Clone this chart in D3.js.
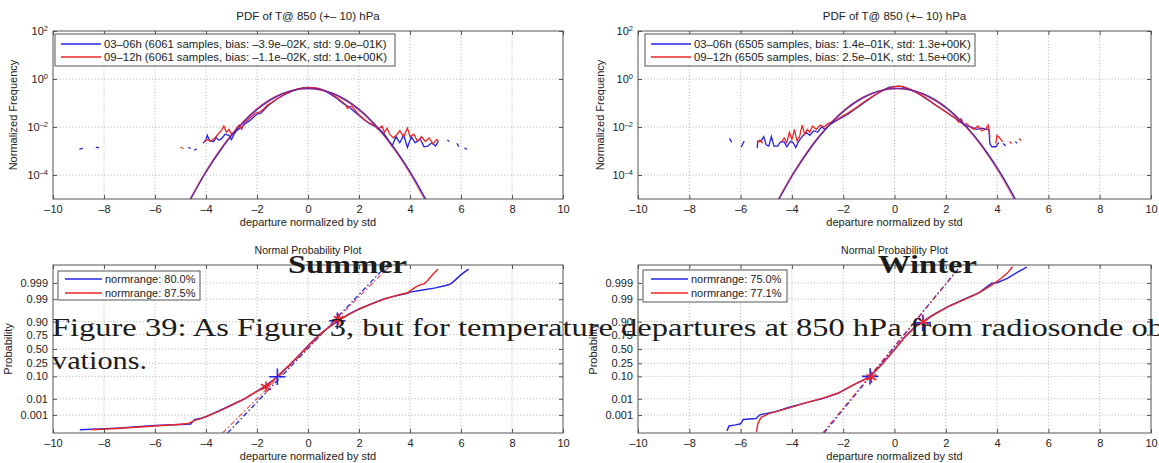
<!DOCTYPE html>
<html>
<head>
<meta charset="utf-8">
<script src="https://cdn.jsdelivr.net/npm/d3@7"></script>
<style>
  body { margin: 0; background: #fff; }
  svg { display: block; font-family: "Liberation Sans", Arial, sans-serif; }
</style>
</head>
<body>
<svg id="fig" width="1159" height="463"></svg>
<script>
// ---------- values ----------
const xTicks = [-10, -8, -6, -4, -2, 0, 2, 4, 6, 8, 10];
const pdfExps = [-4, -2, 0, 2];                       // y ticks 10^e
const probLabels = ["0.001", "0.01", "0.10", "0.25", "0.50", "0.75", "0.90", "0.99", "0.999"];
const probQuant = [-3.09, -2.33, -1.28, -0.67, 0, 0.67, 1.28, 2.33, 3.09];

const pdfTitle = "PDF of T@ 850 (+\u2013 10) hPa";
const nppTitle = "Normal Probability Plot";
const xLabel = "departure normalized by std";

const sumLegend = ["03\u201306h (6061 samples, bias: \u20133.9e\u201302K, std: 9.0e\u201301K)",
                   "09\u201312h (6061 samples, bias: \u20131.1e\u201302K, std: 1.0e+00K)"];
const winLegend = ["03\u201306h (6505 samples, bias: 1.4e\u201301K, std: 1.3e+00K)",
                   "09\u201312h (6505 samples, bias: 2.5e\u201301K, std: 1.5e+00K)"];
const sumNppLegend = ["normrange: 80.0%", "normrange: 87.5%"];
const winNppLegend = ["normrange: 75.0%", "normrange: 77.1%"];

// summer pdf, [departure, normalized frequency]; null = gap (empty bins)
const sumPdfBlue = [[-8.95,1.2e-3],[-8.85,1.3e-3],null,[-8.3,1.4e-3],[-8.22,1.4e-3],null,
  [-4.68,1.4e-3],[-4.62,1.3e-3],null,[-4.45,1.1e-3],[-4.38,1.2e-3],null,
  [-4.1,2.2e-3],[-4.0,3.0e-3],[-3.95,4.5e-3],[-3.85,2.6e-3],[-3.7,2.5e-3],[-3.6,3.6e-3],[-3.5,2.8e-3],
  [-3.4,3.2e-3],[-3.25,5e-3],[-3.1,4.5e-3],[-3.0,3e-3],[-2.9,5e-3],[-2.8,7e-3],[-2.6,1.0e-2],
  [-2.45,1.4e-2],[-2.3,1.8e-2],[-2.15,2.5e-2],[-2.0,3.4e-2],[-1.85,3.8e-2],[-1.7,5.5e-2],[-1.55,8e-2],
  [-1.4,1.05e-1],[-1.2,1.5e-1],[-1.0,2.0e-1],[-0.8,2.6e-1],[-0.6,3.2e-1],[-0.4,3.8e-1],[-0.2,4.3e-1],
  [0,4.5e-1],[0.2,4.4e-1],[0.4,4.0e-1],[0.6,3.4e-1],[0.8,2.6e-1],[1.0,1.9e-1],[1.15,1.5e-1],
  [1.3,1.1e-1],[1.45,8.5e-2],[1.6,7e-2],[1.8,4.5e-2],[2.0,3.0e-2],[2.2,2.0e-2],[2.4,1.4e-2],
  [2.6,1.1e-2],[2.8,8e-3],[3.0,5e-3],[3.15,2.8e-3],[3.3,1.6e-3],[3.45,4e-3],[3.6,2.2e-3],[3.75,4.5e-3],
  [3.9,1.4e-3],[4.05,4e-3],[4.2,2.2e-3],[4.4,3.2e-3],[4.55,1.5e-3],[4.7,1.6e-3],[4.85,2.2e-3],
  [5.0,1.6e-3],[5.1,2.4e-3],null,[5.48,2.8e-3],[5.52,2.6e-3],null,[5.85,2.0e-3],[5.9,1.6e-3],null,
  [6.15,1.3e-3],[6.22,1.2e-3]];
const sumPdfRed = [[-4.98,1.4e-3],[-4.9,1.3e-3],null,
  [-4.05,2.4e-3],[-3.95,3.0e-3],[-3.8,2.6e-3],[-3.65,3.5e-3],[-3.5,5.5e-3],[-3.4,7e-3],[-3.3,1.1e-2],
  [-3.2,6e-3],[-3.1,8e-3],[-3.0,5e-3],[-2.9,6e-3],[-2.8,9e-3],[-2.7,1.2e-2],[-2.6,8e-3],[-2.5,1.5e-2],
  [-2.35,2.0e-2],[-2.2,2.8e-2],[-2.05,3.8e-2],[-1.9,4.2e-2],[-1.75,5.5e-2],[-1.6,8e-2],[-1.4,1.1e-1],
  [-1.2,1.55e-1],[-1.0,2.0e-1],[-0.8,2.6e-1],[-0.6,3.3e-1],[-0.4,3.9e-1],[-0.2,4.2e-1],[0,4.4e-1],
  [0.2,4.4e-1],[0.4,4.1e-1],[0.6,3.5e-1],[0.8,2.8e-1],[1.0,2.1e-1],[1.15,1.6e-1],[1.3,1.2e-1],
  [1.45,9e-2],[1.55,6e-2],[1.7,7.5e-2],[1.85,5e-2],[2.0,3.2e-2],[2.15,2.4e-2],[2.3,1.7e-2],
  [2.45,1.4e-2],[2.6,1.2e-2],[2.75,8e-3],[2.9,1.1e-2],[3.0,6e-3],[3.1,9e-3],[3.2,5e-3],[3.35,3.5e-3],
  [3.5,5e-3],[3.6,7e-3],[3.75,4e-3],[3.9,9e-3],[4.0,4e-3],[4.15,5e-3],[4.3,2.5e-3],[4.45,4e-3],
  [4.6,2.5e-3],[4.75,3.5e-3],[4.9,2e-3],[5.05,3e-3],[5.1,2.6e-3]];

// fitted normal curves (same shape, read at these departures)
const sumFitX = [-4.7,-4.5,-4,-3.5,-3,-2.5,-2,-1.5,-1,-0.5,0,0.5,1,1.5,2,2.5,3,3.5,4,4.5,4.7];
const sumFitBlue = [6.5e-6,1.6e-5,1.34e-4,8.7e-4,4.4e-3,1.75e-2,5.4e-2,1.3e-1,2.42e-1,3.52e-1,3.99e-1,
                    3.52e-1,2.42e-1,1.3e-1,5.4e-2,1.75e-2,4.4e-3,8.7e-4,1.34e-4,1.6e-5,6.3e-6];
const sumFitRed  = [6.0e-6,1.5e-5,1.3e-4,8.6e-4,4.4e-3,1.75e-2,5.4e-2,1.3e-1,2.42e-1,3.52e-1,3.99e-1,
                    3.52e-1,2.42e-1,1.3e-1,5.4e-2,1.75e-2,4.4e-3,8.5e-4,1.3e-4,1.5e-5,6.0e-6];

// winter pdf
const winPdfBlue = [[-6.42,3.2e-3],[-6.36,2.4e-3],null,[-5.97,1.5e-3],[-5.87,2.5e-3],null,
  [-5.35,1.4e-3],[-5.33,2.6e-3],[-5.2,2.6e-3],[-5.1,4e-3],[-5.0,1.8e-3],[-4.9,1.6e-3],[-4.8,4e-3],
  [-4.7,1.6e-3],[-4.55,1.6e-3],[-4.45,2.4e-3],[-4.3,2.4e-3],[-4.2,1.5e-3],[-4.05,2.5e-3],[-3.95,2.2e-3],
  [-3.85,1.4e-3],[-3.75,2.4e-3],[-3.6,4e-3],[-3.45,6e-3],[-3.3,4.5e-3],[-3.15,7e-3],[-3.0,6e-3],
  [-2.85,1.0e-2],[-2.7,8e-3],[-2.55,1.2e-2],[-2.4,1.5e-2],[-2.2,2.0e-2],[-2.0,2.6e-2],[-1.8,3.5e-2],
  [-1.6,5e-2],[-1.4,7e-2],[-1.2,1.0e-1],[-1.0,1.4e-1],[-0.8,2.0e-1],[-0.6,2.7e-1],[-0.4,3.6e-1],
  [-0.2,4.6e-1],[0,4.8e-1],[0.2,5.0e-1],[0.4,4.4e-1],[0.6,3.6e-1],[0.8,2.9e-1],[1.0,2.2e-1],
  [1.2,1.6e-1],[1.4,1.15e-1],[1.6,8e-2],[1.8,6e-2],[2.0,4.3e-2],[2.2,3e-2],[2.4,2.2e-2],[2.6,1.5e-2],
  [2.8,1.1e-2],[3.0,1.0e-2],[3.2,8e-3],[3.4,9e-3],[3.6,8e-3],[3.68,8e-3],[3.72,2e-3],[3.8,1.5e-3],
  [3.95,1.5e-3],[4.05,2.2e-3],null,[4.25,2.0e-3],[4.32,1.7e-3],null,[4.72,2.4e-3],[4.76,2.2e-3]];
const winPdfRed = [[-5.35,2.2e-3],[-5.25,2.8e-3],[-5.15,2.2e-3],null,
  [-4.4,2.4e-3],[-4.3,3.5e-3],[-4.2,2.2e-3],[-4.1,6e-3],[-4.0,3e-3],[-3.9,8e-3],[-3.8,2.6e-3],
  [-3.7,4e-3],[-3.6,1.2e-2],[-3.5,5e-3],[-3.4,8e-3],[-3.3,6e-3],[-3.2,1.1e-2],[-3.05,8e-3],
  [-2.9,1.2e-2],[-2.75,1.0e-2],[-2.6,1.4e-2],[-2.45,1.6e-2],[-2.25,2.0e-2],[-2.05,2.8e-2],
  [-1.85,3.6e-2],[-1.65,5e-2],[-1.45,7e-2],[-1.25,1.0e-1],[-1.05,1.4e-1],[-0.85,1.9e-1],
  [-0.65,2.6e-1],[-0.45,3.4e-1],[-0.25,4.1e-1],[-0.05,4.7e-1],[0.15,5.0e-1],[0.35,4.8e-1],
  [0.55,4.0e-1],[0.75,3.2e-1],[0.95,2.4e-1],[1.15,1.8e-1],[1.35,1.3e-1],[1.55,9e-2],[1.75,6.5e-2],
  [1.95,4.6e-2],[2.15,3.3e-2],[2.35,2.5e-2],[2.5,1.6e-2],[2.6,2.2e-2],[2.7,1.2e-2],[2.8,1.4e-2],
  [2.95,1.0e-2],[3.1,8e-3],[3.25,1.1e-2],[3.4,7e-3],[3.55,8e-3],[3.65,1.2e-2],[3.72,4e-3],null,
  [3.95,2.2e-3],[4.0,4.5e-3],[4.1,3.5e-3],[4.2,2.5e-3],null,[4.5,2.4e-3],[4.55,2.1e-3],null,
  [4.88,3.2e-3],[4.92,2.8e-3]];
const winFitX = [-4.6,-4.4,-3.9,-3.4,-2.9,-2.4,-1.9,-1.4,-0.9,-0.4,0.1,0.6,1.1,1.6,2.1,2.6,3.1,3.6,4.1,4.6,4.8];
const winFitBlue = sumFitBlue;
const winFitRed = sumFitRed;

// normal probability plots, [departure, normal quantile of probability]
const sumNppBlue = [[-8.95,-3.78],[-7.5,-3.7],[-6,-3.58],[-5.0,-3.53],[-4.6,-3.51],[-4.45,-3.3],
  [-4.2,-3.24],[-4.0,-3.17],[-3.7,-3.0],[-3.5,-2.9],[-3.25,-2.76],[-3.0,-2.62],[-2.75,-2.48],
  [-2.5,-2.34],[-2.25,-2.16],[-2.0,-1.97],[-1.75,-1.78],[-1.5,-1.57],[-1.25,-1.35],[-1.0,-1.05],
  [-0.75,-0.77],[-0.5,-0.48],[-0.25,-0.17],[0,0.15],[0.25,0.44],[0.5,0.72],[0.75,0.96],[1.0,1.16],
  [1.25,1.36],[1.5,1.56],[1.75,1.73],[2.0,1.88],[2.5,2.12],[3.0,2.36],[3.5,2.5],[3.9,2.6],[4.0,2.66],
  [4.5,2.76],[5.0,2.86],[5.4,2.97],[5.6,3.05],[5.75,3.2],[6.0,3.48],[6.3,3.74]];
const sumNppRed = [[-8.5,-3.78],[-7.5,-3.72],[-6,-3.6],[-5,-3.52],[-4.7,-3.48],[-4.4,-3.33],
  [-4.2,-3.26],[-4.0,-3.16],[-3.5,-2.92],[-3.0,-2.63],[-2.5,-2.33],[-2.0,-1.98],[-1.65,-1.74],
  [-1.5,-1.6],[-1.0,-1.06],[-0.5,-0.47],[0,0.14],[0.5,0.72],[1.0,1.18],[1.5,1.55],[2.0,1.86],
  [2.5,2.11],[3.0,2.34],[3.5,2.52],[3.9,2.63],[4.2,2.88],[4.4,3.0],[4.55,3.05],[4.7,3.22],
  [4.9,3.5],[5.1,3.74]];
const sumFitBlueNpp = [[-3.15,-3.93],[3.1,3.93]];
const sumFitRedNpp = [[-3.35,-3.93],[3.25,3.93]];
const sumMarkBlue = [[-1.2,-1.3],[1.15,1.32]];
const sumMarkRed = [[-1.65,-1.78],[1.2,1.4]];

const winNppBlue = [[-6.53,-3.83],[-6.45,-3.6],[-6.2,-3.55],[-6.0,-3.5],[-5.9,-3.3],[-5.4,-3.25],
  [-5.25,-3.08],[-4.7,-2.95],[-4.1,-2.72],[-3.4,-2.5],[-2.8,-2.32],[-2.2,-2.08],[-1.6,-1.68],
  [-1.2,-1.45],[-0.9,-1.2],[-0.5,-0.72],[0,-0.02],[0.4,0.56],[0.8,1.04],[1.1,1.28],[1.5,1.6],
  [2.1,2.0],[2.7,2.32],[3.3,2.64],[3.7,3.0],[3.8,3.08],[4.0,3.1],[4.4,3.3],[4.8,3.6],[5.16,3.83]];
const winNppRed = [[-5.38,-3.88],[-5.33,-3.5],[-5.2,-3.2],[-4.9,-3.02],[-4.4,-2.86],[-4.0,-2.72],
  [-3.4,-2.5],[-2.8,-2.3],[-2.2,-2.06],[-1.6,-1.68],[-1.2,-1.45],[-0.9,-1.24],[-0.5,-0.74],
  [0,-0.04],[0.4,0.55],[0.8,1.02],[1.1,1.25],[1.5,1.57],[2.1,1.98],[2.7,2.3],[3.3,2.63],
  [3.8,3.0],[4.15,3.3],[4.4,3.55],[4.6,3.85]];
const winFitBlueNpp = [[-2.75,-3.93],[2.6,3.93]];
const winFitRedNpp = [[-2.8,-3.93],[2.62,3.93]];
const winMarkBlue = [[-0.95,-1.28],[1.1,1.22]];
const winMarkRed = [[-0.9,-1.32],[1.12,1.28]];

// ---------- drawing ----------
const svg = d3.select("#fig");
const BLUE = "#2424e8", RED = "#ea2626";

function fmtNum(d) { return d < 0 ? "\u2013" + (-d) : String(d); }

function panel(id, box, y, yVals, yFmt, title, titleSize, ylabel, ylabelX) {
  const x = d3.scaleLinear().domain([-10, 10]).range([box.x0, box.x1]);
  const g = svg.append("g");
  svg.append("clipPath").attr("id", id).append("rect")
    .attr("x", box.x0).attr("y", box.y0)
    .attr("width", box.x1 - box.x0).attr("height", box.y1 - box.y0);

  const grid = g.append("g").attr("stroke", "#b0b0b0").attr("stroke-dasharray", "1,2.2");
  grid.selectAll(".gx").data(xTicks.slice(1, -1)).join("line")
    .attr("x1", d => x(d)).attr("x2", d => x(d)).attr("y1", box.y0).attr("y2", box.y1);
  grid.selectAll(".gy").data(yVals.filter(v => y(v) > box.y0 + 1 && y(v) < box.y1 - 1)).join("line")
    .attr("x1", box.x0).attr("x2", box.x1).attr("y1", d => y(d)).attr("y2", d => y(d));

  const plot = g.append("g").attr("clip-path", `url(#${id})`);
  const axes = svg.append("g");

  return { x, y, plot, finish() {
    const bx = axes.append("g").attr("transform", `translate(0,${box.y1})`)
      .call(d3.axisBottom(x).tickValues(xTicks).tickSize(-4).tickPadding(6).tickFormat(fmtNum));
    axes.append("g").attr("transform", `translate(0,${box.y0})`)
      .call(d3.axisTop(x).tickValues(xTicks).tickSize(-4).tickFormat(""));
    const by = axes.append("g").attr("transform", `translate(${box.x0},0)`)
      .call(d3.axisLeft(y).tickValues(yVals).tickSize(-4).tickPadding(5).tickFormat(yFmt));
    axes.append("g").attr("transform", `translate(${box.x1},0)`)
      .call(d3.axisRight(y).tickValues(yVals).tickSize(-4).tickFormat(""));
    axes.selectAll(".domain").remove();
    axes.selectAll(".tick line").attr("stroke", "#555");
    axes.selectAll(".tick text").attr("fill", "#222").attr("font-size", 11)
      .attr("font-family", "'Liberation Sans', Arial, sans-serif");
    axes.append("rect").attr("x", box.x0).attr("y", box.y0)
      .attr("width", box.x1 - box.x0).attr("height", box.y1 - box.y0)
      .attr("fill", "none").attr("stroke", "#555");
    axes.append("text").attr("x", (box.x0 + box.x1) / 2).attr("y", box.y1 + 27)
      .attr("text-anchor", "middle").attr("font-size", 11).attr("fill", "#222").text(xLabel);
    axes.append("text").attr("x", (box.x0 + box.x1) / 2).attr("y", box.y0 - 11)
      .attr("text-anchor", "middle").attr("font-size", titleSize).attr("fill", "#222").text(title);
    axes.append("text")
      .attr("transform", `translate(${ylabelX},${(box.y0 + box.y1) / 2}) rotate(-90)`)
      .attr("text-anchor", "middle").attr("font-size", 11).attr("fill", "#222").text(ylabel);
    return { bx, by };
  }};
}

function legend(lb, labels, fontSize) {
  const lg = svg.append("g");
  lg.append("rect").attr("x", lb.x0).attr("y", lb.y0)
    .attr("width", lb.x1 - lb.x0).attr("height", lb.y1 - lb.y0)
    .attr("fill", "#fff").attr("stroke", "#555");
  [BLUE, RED].forEach((c, i) => {
    const yy = lb.rows[i];
    lg.append("line").attr("x1", lb.l0).attr("x2", lb.l1).attr("y1", yy).attr("y2", yy)
      .attr("stroke", c).attr("stroke-width", 1.4);
    lg.append("text").attr("x", lb.l1 + 3).attr("y", yy).attr("dy", "0.35em")
      .attr("font-size", fontSize).attr("fill", "#222").text(labels[i]);
  });
}

const lineXY = (p) => d3.line().defined(d => d !== null)
  .x(d => p.x(d[0])).y(d => p.y(d[1]));

function pdfPanel(id, box, blue, red, fitX, fitB, fitR, leg, lb, ylabX) {
  const y = d3.scaleLog().domain([1e-5, 1e2]).range([box.y1, box.y0]);
  const p = panel(id, box, y, pdfExps.map(e => Math.pow(10, e)), () => "",
                  pdfTitle, 11.5, "Normalized Frequency", ylabX);
  const ln = lineXY(p);
  p.plot.append("path").datum(blue).attr("d", ln).attr("fill", "none")
    .attr("stroke", BLUE).attr("stroke-width", 1.3).attr("stroke-linecap", "round");
  p.plot.append("path").datum(red).attr("d", ln).attr("fill", "none")
    .attr("stroke", RED).attr("stroke-width", 1.3).attr("stroke-linecap", "round");
  const fit = d3.line().curve(d3.curveCatmullRom).x(d => p.x(d[0])).y(d => y(d[1]));
  p.plot.append("path").datum(fitX.map((v, i) => [v, fitB[i]])).attr("d", fit)
    .attr("fill", "none").attr("stroke", BLUE).attr("stroke-width", 1.5);
  p.plot.append("path").datum(fitX.map((v, i) => [v - 0.03, fitR[i]])).attr("d", fit)
    .attr("fill", "none").attr("stroke", RED).attr("stroke-width", 1.5).attr("stroke-opacity", 0.5);
  const { by } = p.finish();
  // 10^e labels with superscripts
  by.selectAll(".tick text").each(function (d) {
    const t = d3.select(this);
    t.append("tspan").text("10");
    t.append("tspan").attr("dy", "-0.55em").attr("font-size", 7.5)
      .text(fmtNum(Math.round(Math.log10(d))));
  });
  legend(lb, leg, 11.3);
}

function nppPanel(id, box, blue, red, fitB, fitR, mB, mR, leg, lb, ylabX) {
  const y = d3.scaleLinear().domain([-3.93, 3.93]).range([box.y1, box.y0]);
  const p = panel(id, box, y, probQuant, (d, i) => probLabels[i],
                  nppTitle, 10.5, "Probability", ylabX);
  const ln = lineXY(p);
  p.plot.append("path").datum(fitB).attr("d", ln).attr("fill", "none")
    .attr("stroke", BLUE).attr("stroke-width", 1.3).attr("stroke-dasharray", "5,2.5,1.5,2.5");
  p.plot.append("path").datum(fitR).attr("d", ln).attr("fill", "none")
    .attr("stroke", RED).attr("stroke-width", 1.3).attr("stroke-dasharray", "5,2.5,1.5,2.5")
    .attr("stroke-opacity", 0.75);
  p.plot.append("path").datum(blue).attr("d", ln).attr("fill", "none")
    .attr("stroke", BLUE).attr("stroke-width", 1.4);
  p.plot.append("path").datum(red).attr("d", ln).attr("fill", "none")
    .attr("stroke", RED).attr("stroke-width", 1.4);
  p.plot.selectAll(".mb").data(mB).join("path")
    .attr("transform", d => `translate(${p.x(d[0])},${y(d[1])})`)
    .attr("d", d3.symbol(d3.symbolPlus, 90)).attr("fill", "none")
    .attr("stroke", BLUE).attr("stroke-width", 1.6);
  p.plot.selectAll(".mr").data(mR).join("path")
    .attr("transform", d => `translate(${p.x(d[0])},${y(d[1])})`)
    .attr("d", d3.symbol(d3.symbolAsterisk, 90)).attr("fill", "none")
    .attr("stroke", RED).attr("stroke-width", 1.6);
  p.finish();
  legend(lb, leg, 11);
}

pdfPanel("c1", { x0: 53, x1: 563, y0: 31, y1: 199 }, sumPdfBlue, sumPdfRed,
  sumFitX, sumFitBlue, sumFitRed, sumLegend,
  { x0: 55, x1: 395, y0: 34, y1: 66, rows: [44, 57], l0: 61, l1: 101 }, 17);
pdfPanel("c2", { x0: 638, x1: 1151, y0: 31, y1: 199 }, winPdfBlue, winPdfRed,
  winFitX, winFitBlue, winFitRed, winLegend,
  { x0: 645, x1: 975, y0: 34, y1: 66, rows: [44, 57], l0: 651, l1: 691 }, 604);
nppPanel("c3", { x0: 53, x1: 563, y0: 265, y1: 433 }, sumNppBlue, sumNppRed,
  sumFitBlueNpp, sumFitRedNpp, sumMarkBlue, sumMarkRed, sumNppLegend,
  { x0: 58, x1: 200, y0: 271, y1: 300, rows: [279, 293], l0: 65, l1: 102 }, 12);
nppPanel("c4", { x0: 638, x1: 1151, y0: 265, y1: 433 }, winNppBlue, winNppRed,
  winFitBlueNpp, winFitRedNpp, winMarkBlue, winMarkRed, winNppLegend,
  { x0: 643, x1: 787, y0: 270, y1: 302, rows: [279, 293], l0: 651, l1: 688 }, 597);

// page text laid over the figure (caption and season headings)
const serif = "'Liberation Serif', 'Times New Roman', serif";
const over = svg.append("g").attr("fill", "#1c1c1c").attr("font-family", serif);
over.append("text").attr("x", 288).attr("y", 273).attr("font-size", 25).attr("font-weight", "bold")
  .attr("textLength", 119).attr("lengthAdjust", "spacingAndGlyphs").text("Summer");
over.append("text").attr("x", 878).attr("y", 273).attr("font-size", 25).attr("font-weight", "bold")
  .attr("textLength", 99).attr("lengthAdjust", "spacingAndGlyphs").text("Winter");
over.append("text").attr("x", 52).attr("y", 336).attr("font-size", 26)
  .attr("textLength", 1112).attr("lengthAdjust", "spacingAndGlyphs")
  .text("Figure 39:  As Figure 3, but for temperature departures at 850 hPa from radiosonde ob");
over.append("text").attr("x", 52).attr("y", 369).attr("font-size", 26)
  .attr("textLength", 95).attr("lengthAdjust", "spacingAndGlyphs").text("vations.");
</script>
</body>
</html>
